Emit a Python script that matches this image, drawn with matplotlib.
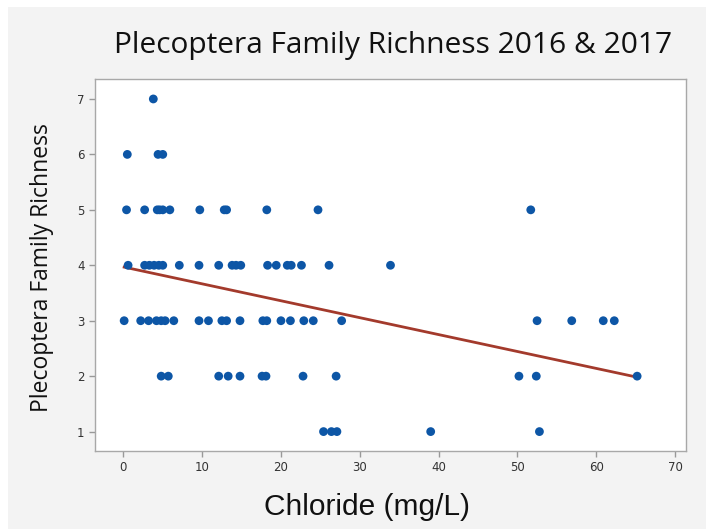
import numpy as np
import matplotlib.pyplot as plt
from matplotlib.patches import Rectangle

# chloride (mg/L) values, grouped by family richness
chl_7 = [3.8]
chl_6 = [0.5, 4.4, 5.0]
chl_5 = [0.4, 2.7, 4.3, 4.6, 5.0, 5.9, 9.7, 12.8, 13.1, 18.2, 24.7, 51.7]
chl_4 = [0.6, 2.7, 3.3, 3.9, 4.5, 5.0, 7.1, 9.6, 12.1, 13.8, 14.3, 14.9,
         18.3, 19.4, 20.8, 21.3, 22.6, 26.1, 33.9]
chl_3 = [0.1, 2.2, 3.2, 4.2, 4.8, 5.3, 6.4, 9.6, 10.8, 12.5, 13.1, 14.8,
         17.7, 18.2, 20.0, 21.2, 22.9, 24.1, 27.7, 52.5, 56.9, 60.9, 62.3]
chl_2 = [4.8, 5.7, 12.1, 13.3, 14.8, 17.6, 18.1, 22.8, 27.0, 50.2, 52.4, 65.2]
chl_1 = [25.4, 26.4, 27.1, 39.0, 52.8]

groups = {7: chl_7, 6: chl_6, 5: chl_5, 4: chl_4, 3: chl_3, 2: chl_2, 1: chl_1}
x = np.array([v for k in groups for v in groups[k]])
y = np.array([k for k in groups for v in groups[k]])

# fitted line as drawn on the chart
intercept = 3.97
slope = -0.0305

fig = plt.figure(figsize=(7.06, 5.29), dpi=100, facecolor="#f3f3f3")
fig.patches.append(Rectangle((0, 0), 8 / 706, 1, transform=fig.transFigure,
                             facecolor="white", edgecolor="none", zorder=0))
fig.patches.append(Rectangle((0, 1 - 7 / 529), 1, 7 / 529, transform=fig.transFigure,
                             facecolor="white", edgecolor="none", zorder=0))

ax = fig.add_axes([95 / 706, 78 / 529, 591 / 706, 372 / 529])
ax.set_facecolor("white")

xl = np.array([x.min(), x.max()])
ax.plot(xl, intercept + slope * xl, color="#a33a2c", lw=2, zorder=2)
ax.scatter(x, y, s=40, color="#0d56a6", edgecolors="none", zorder=3)

ax.set_xlim(-3.6, 71.4)
ax.set_ylim(0.65, 7.36)
ax.set_xticks(range(0, 71, 10))
ax.set_yticks(range(1, 8))
ax.tick_params(colors="#999999", labelcolor="#333333", labelsize=8.5, length=4, width=1)
for s in ax.spines.values():
    s.set_color("#a8a8a8")
    s.set_linewidth(1)

fig.text(393 / 706, 1 - 45 / 529, "Plecoptera Family Richness 2016 & 2017",
         ha="center", va="center", fontsize=21.5, family="Open Sans", color="#111111")
fig.text(42 / 706, 1 - 268 / 529, "Plecoptera Family Richness", rotation=90,
         ha="center", va="center", fontsize=16.5, family="Open Sans", color="#111111")
fig.text(367 / 706, 1 - 507 / 529, "Chloride (mg/L)",
         ha="center", va="center", fontsize=21.5, family="Liberation Sans", color="#111111")

fig.savefig("out.png", dpi=100, facecolor=fig.get_facecolor())
